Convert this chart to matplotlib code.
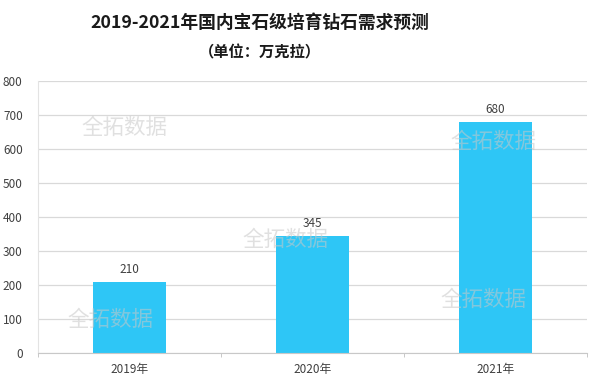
import matplotlib
matplotlib.use("Agg")
import matplotlib.pyplot as plt

plt.rcParams['font.family'] = ['Noto Sans CJK SC', 'DejaVu Sans']

categories = ["2019年", "2020年", "2021年"]
values = [210, 345, 680]
yticks = [0, 100, 200, 300, 400, 500, 600, 700, 800]
title = "2019-2021年国内宝石级培育钻石需求预测"
subtitle = "（单位：万克拉）"
watermark = "全拓数据"

fig = plt.figure(figsize=(6.0, 3.87), dpi=100)
ax = fig.add_axes([38/600, 34/387, 549/600, 272/387])

x = list(range(len(categories)))
bars = ax.bar(x, values, width=0.40, color='#2EC6F6', zorder=2)
for xi, v in zip(x, values):
    ax.text(xi, v + 16, str(v), ha='center', va='bottom', fontsize=8.5, color='#404040', zorder=4)

ax.set_xlim(-0.5, len(categories) - 0.5)
ax.set_ylim(0, 800)
ax.set_yticks(yticks)
ax.set_yticklabels([str(t) for t in yticks], fontsize=8.5, color='#404040')
ax.set_xticks(x)
ax.set_xticklabels(categories, fontsize=8.5, color='#404040')
ax.tick_params(axis='y', length=0, pad=11)
ax.tick_params(axis='x', length=0, pad=7)
ax.set_xticks([-0.5, 0.5, 1.5, 2.5], minor=True)
ax.tick_params(axis='x', which='minor', length=3, color='#BFBFBF')
ax.yaxis.grid(True, color='#D9D9D9', linewidth=0.9, zorder=0)
ax.set_axisbelow(True)
for s in ['top', 'right']:
    ax.spines[s].set_visible(False)
ax.spines['left'].set_color('#E3E3E3')
ax.spines['bottom'].set_color('#C8C8C8')

fig.text(260/600, 1 - 23/387, title, ha='center', va='center', fontsize=12.8,
         fontweight='bold', color='#1A1A1A')
fig.text(260/600, 1 - 52/387, subtitle, ha='center', va='center', fontsize=11,
         fontweight='bold', color='#1A1A1A')

wm_pos = [(124, 128), (110, 320), (285, 240), (493, 142), (483, 300)]
for px, py in wm_pos:
    fig.text(px/600, 1 - py/387, watermark, ha='center', va='center', fontsize=15.5,
             color='#C8C8C8', alpha=0.55, zorder=5)

fig.savefig("out.png", dpi=100)
